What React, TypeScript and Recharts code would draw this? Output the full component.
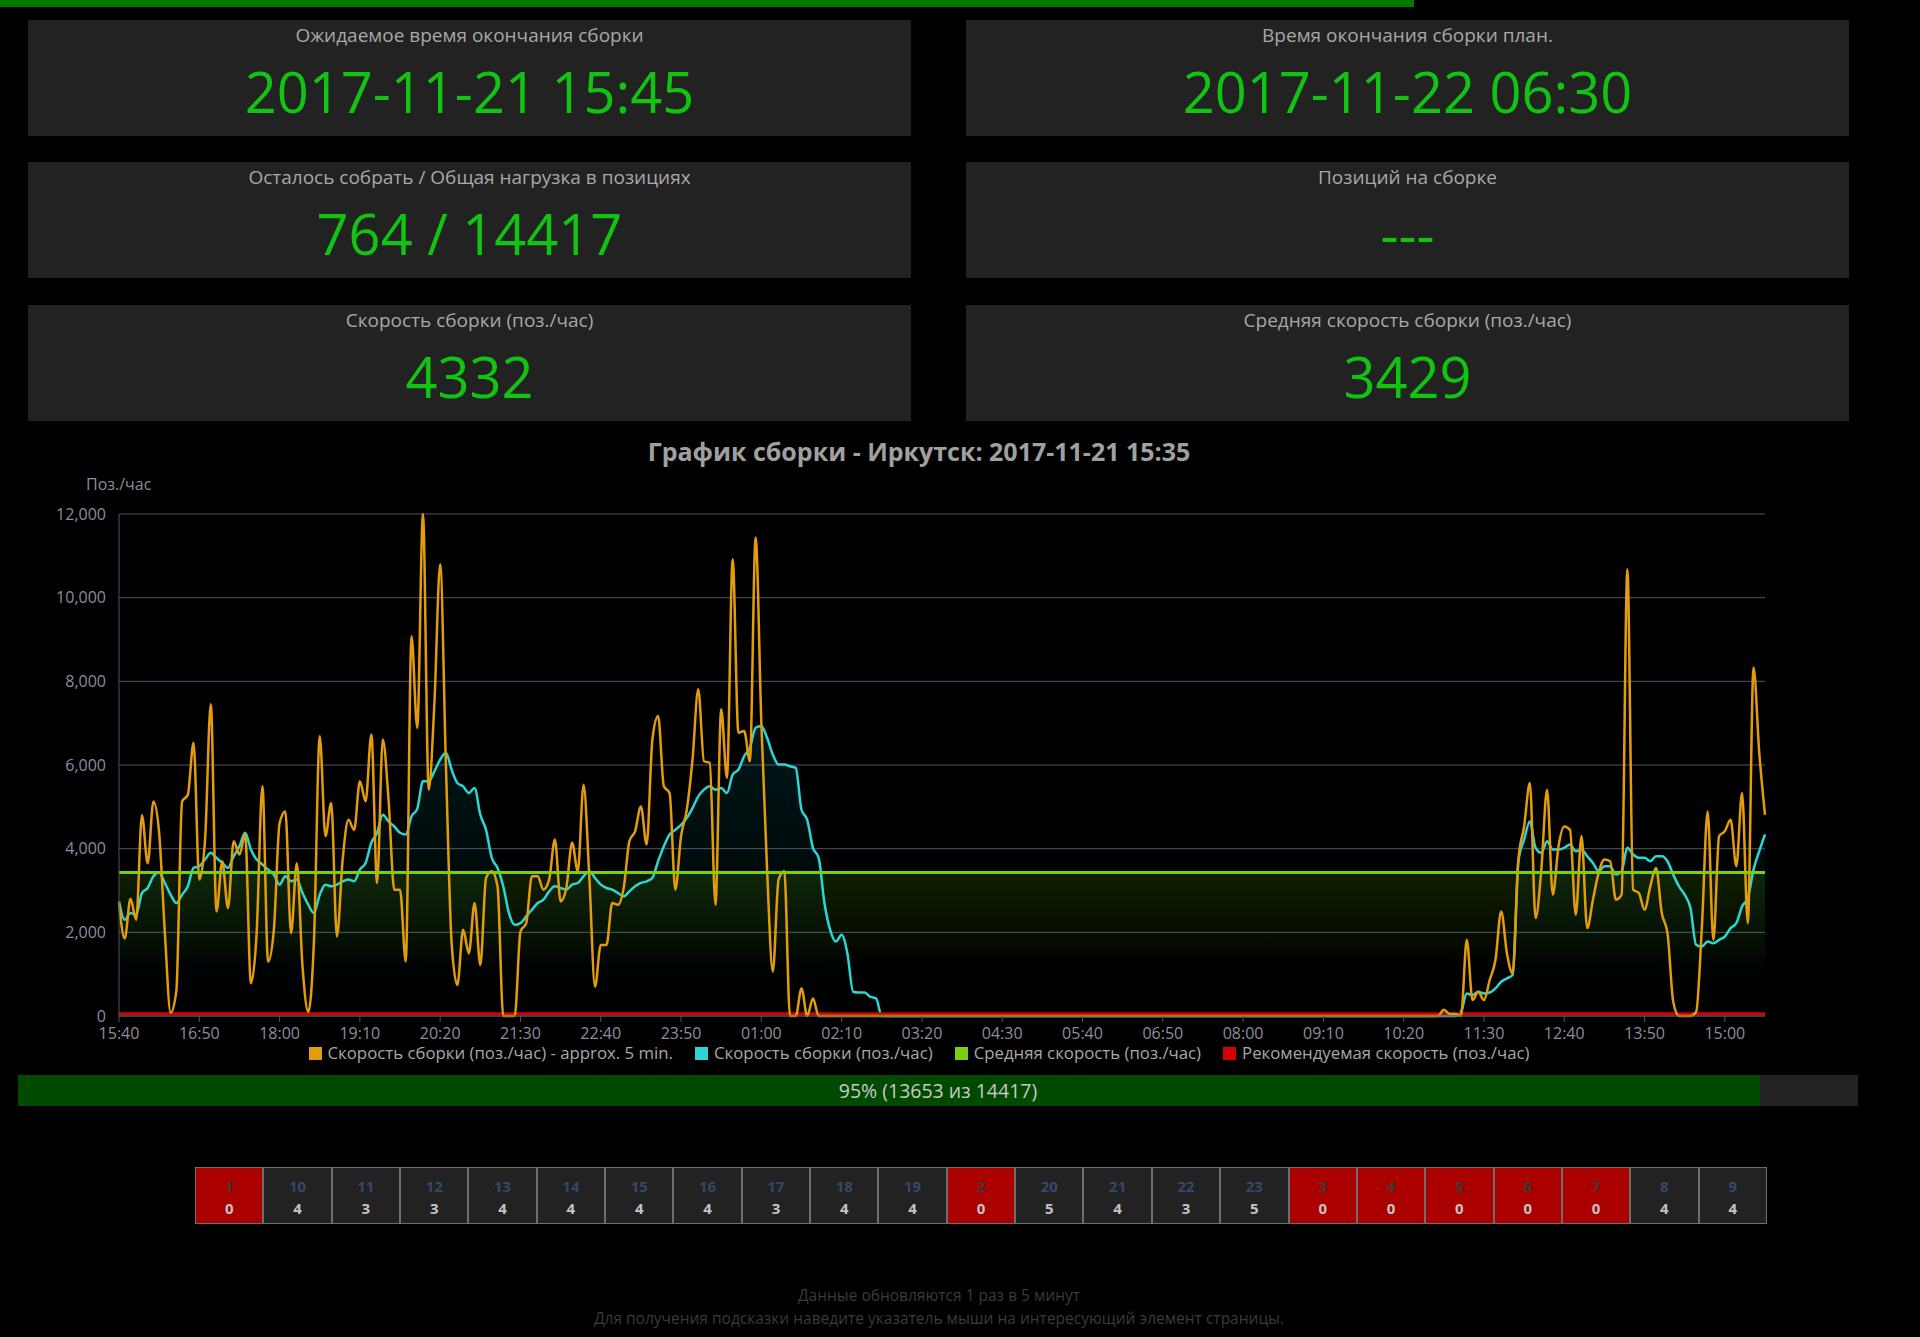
import { ComposedChart, Line, Area, XAxis, YAxis, CartesianGrid } from "recharts"

// 5-minute points starting 15:40, last one 15:35 next day
const STEP_MIN = 5
const TIME_TICKS = [
  "15:40", "16:50", "18:00", "19:10", "20:20", "21:30", "22:40", "23:50", "01:00", "02:10", "03:20",
  "04:30", "05:40", "06:50", "08:00", "09:10", "10:20", "11:30", "12:40", "13:50", "15:00",
]
const Y_TICKS = [0, 2000, 4000, 6000, 8000, 10000, 12000]

// Скорость сборки (поз./час) - approx. 5 min.
const SPEED_5MIN = [
  2700, 1850, 2800, 2300, 4800, 3650, 5130, 4380, 1980, 80,
  600, 5130, 5290, 6530, 3260, 4200, 7450, 2500, 3700, 2580,
  4180, 3860, 4340, 780, 1980, 5490, 1300, 2060, 4610, 4890,
  1980, 3650, 1180, 100, 1820, 6690, 4300, 5090, 1900, 3740,
  4690, 4450, 5610, 5130, 6730, 3180, 6610, 5170, 3020, 3020,
  1300, 9080, 6890, 12000, 5410, 7500, 10800, 6000, 1740, 740,
  2060, 1500, 2700, 1220, 3300, 3460, 3100, 0, 0, 0,
  2020, 2220, 3340, 3340, 3020, 3260, 4220, 2740, 3060, 4140,
  3460, 5530, 3340, 700, 1700, 1700, 2700, 2660, 3060, 4180,
  4420, 5010, 4100, 6610, 7170, 5490, 5330, 3020, 4300, 4930,
  6130, 7810, 6090, 6050, 2660, 7330, 5690, 10920, 6770, 6810,
  6090, 11440, 7000, 3500, 1060, 3260, 3460, 0, 0, 660,
  0, 420, 0, 0, 0, 0, 0, 0, 0, 0,
  0, 0, 0, 0, 0, 0, 0, 0, 0, 0,
  0, 0, 0, 0, 0, 0, 0, 0, 0, 0,
  0, 0, 0, 0, 0, 0, 0, 0, 0, 0,
  0, 0, 0, 0, 0, 0, 0, 0, 0, 0,
  0, 0, 0, 0, 0, 0, 0, 0, 0, 0,
  0, 0, 0, 0, 0, 0, 0, 0, 0, 0,
  0, 0, 0, 0, 0, 0, 0, 0, 0, 0,
  0, 0, 0, 0, 0, 0, 0, 0, 0, 0,
  0, 0, 0, 0, 0, 0, 0, 0, 0, 0,
  0, 0, 0, 0, 0, 0, 0, 0, 0, 0,
  0, 150, 50, 50, 0, 1820, 380, 580, 380, 860,
  1340, 2500, 1500, 1020, 3740, 4530, 5570, 2340, 3500, 5410,
  2900, 4060, 4530, 4450, 2420, 4300, 2100, 2780, 3420, 3740,
  3700, 2780, 2900, 10680, 3020, 2940, 2540, 3100, 3540, 2460,
  1980, 340, 0, 0, 0, 100, 2140, 4890, 1820, 4300,
  4420, 4690, 3580, 5330, 2220, 8330, 6290, 4810,
]

// Скорость сборки (поз./час)
const SPEED = [
  2740, 2300, 2460, 2420, 2940, 3060, 3340, 3430, 3180, 2900,
  2700, 2900, 3100, 3540, 3580, 3740, 3900, 3780, 3660, 3540,
  3820, 4060, 4380, 3980, 3740, 3620, 3500, 3380, 3140, 3340,
  3220, 3260, 2940, 2660, 2460, 2900, 3140, 3100, 3140, 3220,
  3260, 3220, 3500, 3660, 4140, 4380, 4810, 4650, 4530, 4380,
  4340, 4770, 4950, 5610, 5610, 5850, 6130, 6290, 5890, 5570,
  5490, 5330, 5450, 4810, 4450, 3780, 3540, 3100, 2460, 2180,
  2220, 2380, 2540, 2700, 2780, 2980, 3100, 3060, 3020, 3140,
  3180, 3340, 3460, 3300, 3140, 3060, 3020, 2940, 2860, 2980,
  3100, 3180, 3220, 3300, 3700, 4060, 4340, 4450, 4570, 4730,
  4970, 5250, 5410, 5490, 5410, 5450, 5330, 5770, 5890, 6210,
  6410, 6890, 6930, 6650, 6250, 6010, 6010, 5970, 5930, 4930,
  4690, 4020, 3780, 2700, 2060, 1780, 1940, 1500, 580, 560,
  560, 460, 420, 0, 0, 0, 0, 0, 0, 0,
  0, 0, 0, 0, 0, 0, 0, 0, 0, 0,
  0, 0, 0, 0, 0, 0, 0, 0, 0, 0,
  0, 0, 0, 0, 0, 0, 0, 0, 0, 0,
  0, 0, 0, 0, 0, 0, 0, 0, 0, 0,
  0, 0, 0, 0, 0, 0, 0, 0, 0, 0,
  0, 0, 0, 0, 0, 0, 0, 0, 0, 0,
  0, 0, 0, 0, 0, 0, 0, 0, 0, 0,
  0, 0, 0, 0, 0, 0, 0, 0, 0, 0,
  0, 0, 0, 0, 0, 0, 0, 0, 0, 0,
  0, 0, 0, 0, 100, 540, 500, 580, 540, 560,
  660, 820, 900, 980, 3700, 4220, 4650, 4020, 3900, 4180,
  3980, 3980, 4020, 4100, 3940, 3980, 3820, 3660, 3460, 3580,
  3580, 3380, 3460, 4020, 3860, 3780, 3780, 3700, 3820, 3820,
  3700, 3380, 3100, 2900, 2580, 1700, 1660, 1780, 1740, 1820,
  1900, 2100, 2220, 2620, 2820, 3500, 3940, 4340,
]

const AVG_SPEED = 3429
const REC_SPEED = 55

const DONE = 13653
const TOTAL = 14417
const REMAINING = 764

const CELL_LABELS = ["1", "10", "11", "12", "13", "14", "15", "16", "17", "18", "19", "2", "20", "21", "22", "23", "3", "4", "5", "6", "7", "8", "9"]
const CELL_VALUES = [0, 4, 3, 3, 4, 4, 4, 4, 3, 4, 4, 0, 5, 4, 3, 5, 0, 0, 0, 0, 0, 4, 4]

const FONT = "'Open Sans', sans-serif"
const GREEN_TEXT = "#12c412"
const AXIS = "#4f5568"
const LABEL = "#8a8e9e"
const C_ORANGE = "#e49c0b"
const C_CYAN = "#2ad6d6"
const C_AVG = "#7acf12"
const C_REC = "#d40000"

const rows = SPEED_5MIN.map((v, i) => ({
  t: i * STEP_MIN,
  fast: v,
  speed: SPEED[i],
  avg: AVG_SPEED,
  rec: REC_SPEED,
}))

function Panel({ left, top, title, value }: { left: number; top: number; title: string; value: string }) {
  return (
    <div style={{ position: "absolute", left, top, width: 883, height: 116, background: "#222" }}>
      <div style={{ position: "absolute", left: 0, right: 0, top: 3, height: 24, lineHeight: "24px", textAlign: "center", color: "#a8a8a8", fontSize: 19 }}>
        {title}
      </div>
      <div style={{ position: "absolute", left: 0, right: 0, top: 41, height: 60, lineHeight: "60px", textAlign: "center", color: GREEN_TEXT, fontSize: 56 }}>
        {value}
      </div>
    </div>
  )
}

const LEGEND = [
  { name: "Скорость сборки (поз./час) - approx. 5 min.", color: C_ORANGE },
  { name: "Скорость сборки (поз./час)", color: C_CYAN },
  { name: "Средняя скорость (поз./час)", color: C_AVG },
  { name: "Рекомендуемая скорость (поз./час)", color: C_REC },
]

export default function App() {
  const pct = Math.round((DONE / TOTAL) * 100)
  return (
    <div style={{ position: "fixed", left: 0, top: 0, width: 1920, height: 1337, background: "#000", overflow: "hidden", fontFamily: FONT }}>
      <div style={{ position: "absolute", left: 0, top: 0, width: 1414, height: 7, background: "#007a00" }} />

      <Panel left={28} top={20} title="Ожидаемое время окончания сборки" value="2017-11-21 15:45" />
      <Panel left={966} top={20} title="Время окончания сборки план." value="2017-11-22 06:30" />
      <Panel left={28} top={162} title="Осталось собрать / Общая нагрузка в позициях" value={`${REMAINING} / ${TOTAL}`} />
      <Panel left={966} top={162} title="Позиций на сборке" value="---" />
      <Panel left={28} top={305} title="Скорость сборки (поз./час)" value="4332" />
      <Panel left={966} top={305} title="Средняя скорость сборки (поз./час)" value="3429" />

      <div style={{ position: "absolute", left: 0, width: 1838, top: 434, height: 34, lineHeight: "34px", textAlign: "center", color: "#a0a0a0", fontSize: 25, fontWeight: 700 }}>
        График сборки - Иркутск: 2017-11-21 15:35
      </div>
      <div style={{ position: "absolute", left: 86, top: 473, fontSize: 16, color: LABEL, lineHeight: "22px" }}>Поз./час</div>

      <div style={{ position: "absolute", left: 0, top: 500 }}>
        <ComposedChart width={1920} height={546} data={rows} margin={{ top: 14, right: 155, bottom: 0, left: 0 }}>
          <defs>
            <linearGradient id="avgFill" x1="0" y1="0" x2="0" y2="1">
              <stop offset="0%" stopColor="#4a9a00" stopOpacity={0.34} />
              <stop offset="50%" stopColor="#3a8000" stopOpacity={0.14} />
              <stop offset="64%" stopColor="#3a8000" stopOpacity={0} />
            </linearGradient>
            <linearGradient id="speedFill" x1="0" y1="0" x2="0" y2="1">
              <stop offset="0%" stopColor="#00c8d2" stopOpacity={0.2} />
              <stop offset="60%" stopColor="#00c8d2" stopOpacity={0.06} />
              <stop offset="100%" stopColor="#00c8d2" stopOpacity={0} />
            </linearGradient>
          </defs>
          <CartesianGrid horizontal vertical={false} stroke={AXIS} strokeWidth={1} />
          <XAxis
            dataKey="t"
            type="number"
            domain={[0, (SPEED_5MIN.length - 1) * STEP_MIN]}
            ticks={TIME_TICKS.map((_, i) => i * 70)}
            tickFormatter={(v) => TIME_TICKS[Math.round(v / 70)]}
            height={30}
            stroke={AXIS}
            tick={{ fill: LABEL, fontSize: 16, fontFamily: FONT }}
            tickSize={6}
            tickMargin={6}
            interval={0}
          />
          <YAxis
            type="number"
            domain={[0, 12000]}
            ticks={Y_TICKS}
            width={119}
            stroke={AXIS}
            tickLine={false}
            tickSize={0}
            tickMargin={13}
            tick={{ fill: LABEL, fontSize: 16, fontFamily: FONT }}
            tickFormatter={(v) => v.toLocaleString("en-US")}
          />
          <Area dataKey="avg" type="linear" stroke="none" fill="url(#avgFill)" isAnimationActive={false} dot={false} activeDot={false} />
          <Line dataKey="rec" type="linear" stroke={C_REC} strokeWidth={3} dot={false} activeDot={false} isAnimationActive={false} />
          <Line dataKey="fast" type="monotone" stroke={C_ORANGE} strokeWidth={2.5} dot={false} activeDot={false} isAnimationActive={false} />
          <Area dataKey="speed" type="monotone" stroke={C_CYAN} strokeWidth={2.5} fill="url(#speedFill)" dot={false} activeDot={false} isAnimationActive={false} />
          <Line dataKey="avg" type="linear" stroke={C_AVG} strokeWidth={3} dot={false} activeDot={false} isAnimationActive={false} />
        </ComposedChart>
      </div>

      <div style={{ position: "absolute", left: 0, width: 1838, top: 1045, height: 16, display: "flex", justifyContent: "center", alignItems: "center", gap: 22 }}>
        {LEGEND.map((l) => (
          <div key={l.name} style={{ display: "flex", alignItems: "center", gap: 6, color: "#a8a8a8", fontSize: 16.8, lineHeight: "16px", height: 16 }}>
            <span style={{ display: "inline-block", width: 13, height: 13, background: l.color }} />
            <span>{l.name}</span>
          </div>
        ))}
      </div>

      <div style={{ position: "absolute", left: 18, top: 1075, width: 1840, height: 31, background: "#222" }}>
        <div style={{ position: "absolute", left: 0, top: 0, height: 31, width: `${(DONE / TOTAL) * 100}%`, background: "#004a00" }} />
        <div style={{ position: "absolute", left: 0, right: 0, top: 0, height: 31, lineHeight: "31px", textAlign: "center", color: "#c8c8c8", fontSize: 19.5 }}>
          {`${pct}% (${DONE} из ${TOTAL})`}
        </div>
      </div>

      <div style={{ position: "absolute", left: 195, top: 1167, width: 1572, height: 57, display: "flex" }}>
        {CELL_LABELS.map((lab, i) => {
          const zero = CELL_VALUES[i] === 0
          return (
            <div
              key={lab}
              style={{
                flex: 1,
                boxSizing: "border-box",
                border: "1px solid #6e6e6e",
                background: zero ? "#aa0000" : "#222",
                textAlign: "center",
                fontSize: 15,
                fontWeight: 700,
              }}
            >
              <div style={{ marginTop: 8, lineHeight: "20px", color: zero ? "#3a3a3a" : "#34496a" }}>{lab}</div>
              <div style={{ lineHeight: "20px", marginTop: 2, color: "#c4c4c4" }}>{CELL_VALUES[i]}</div>
            </div>
          )
        })}
      </div>

      <div style={{ position: "absolute", left: 0, width: 1878, top: 1284, textAlign: "center", color: "#3a3a3a", fontSize: 15.5, lineHeight: "23px" }}>
        <div>Данные обновляются 1 раз в 5 минут</div>
        <div>Для получения подсказки наведите указатель мыши на интересующий элемент страницы.</div>
      </div>
    </div>
  )
}
